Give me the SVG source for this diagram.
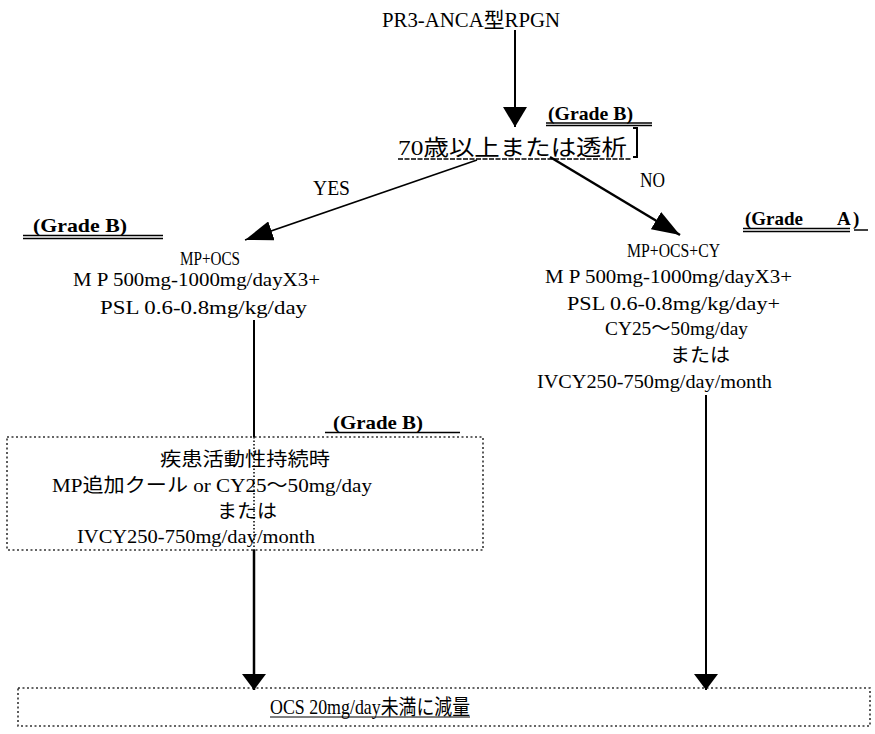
<svg xmlns="http://www.w3.org/2000/svg" width="875" height="734" viewBox="0 0 875 734">
<style>
text{font-family:"Liberation Serif","Noto Sans CJK JP",serif;fill:#000;}
.t{font-size:19px;}
.s{font-size:19px;}
.g{font-size:19px;font-weight:bold;}
.ul{stroke:#000;stroke-width:1.5;fill:none;}
.ln{stroke:#000;fill:none;}
.box{fill:none;stroke:#333;stroke-width:1.6;stroke-dasharray:2 2.5;}
</style>
<defs>
<marker id="ah" viewBox="0 0 20 24" markerWidth="20" markerHeight="24" refX="20" refY="12" orient="auto" markerUnits="userSpaceOnUse">
<path d="M0,0 L20,12 L0,24 Z" fill="#000"/>
</marker>
<marker id="ah2" viewBox="0 0 28 20" markerWidth="28" markerHeight="20" refX="28" refY="10" orient="auto" markerUnits="userSpaceOnUse">
<path d="M0,0 L28,10 L0,20 Z" fill="#000"/>
</marker>
<marker id="ah3" viewBox="0 0 16 24" markerWidth="16" markerHeight="24" refX="16" refY="12" orient="auto" markerUnits="userSpaceOnUse">
<path d="M0,0 L16,12 L0,24 Z" fill="#000"/>
</marker>
</defs>

<g id="title">
<text x="382" y="27" font-size="21" textLength="178" lengthAdjust="spacingAndGlyphs">PR3-ANCA型RPGN</text>
</g>

<g id="decision">
<text x="548" y="120" class="g" textLength="85" lengthAdjust="spacingAndGlyphs">(Grade B)</text>
<line class="ul" x1="546" y1="123" x2="652" y2="123"/>
<line class="ul" x1="546" y1="125.5" x2="652" y2="125.5" stroke-width="1"/>
<text x="398" y="155" font-size="22" textLength="229" lengthAdjust="spacingAndGlyphs">70歳以上または透析</text>
<line x1="398" y1="159" x2="632" y2="159" stroke="#000" stroke-width="1.5" stroke-dasharray="5 1.5"/>
<path class="ln" stroke-width="2" d="M633,128 H637 V157 H633"/>
</g>

<g id="left-node">
<text x="33" y="232" class="g" textLength="94" lengthAdjust="spacingAndGlyphs">(Grade B)</text>
<line class="ul" x1="23" y1="235.5" x2="163" y2="235.5" stroke-width="2"/>
<line class="ul" x1="23" y1="238.5" x2="163" y2="238.5" stroke-width="1"/>
<text x="180" y="265" class="s" textLength="60" lengthAdjust="spacingAndGlyphs">MP+OCS</text>
<text x="73" y="286" class="t" textLength="247" lengthAdjust="spacingAndGlyphs">M P  500mg-1000mg/dayX3+</text>
<text x="100" y="314" class="t" textLength="207" lengthAdjust="spacingAndGlyphs">PSL 0.6-0.8mg/kg/day</text>
</g>

<g id="right-node">
<text x="745" y="225" class="g" textLength="58" lengthAdjust="spacingAndGlyphs">(Grade</text>
<text x="837" y="225" class="g">A</text>
<text x="853" y="225" class="g">)</text>
<line class="ul" x1="743" y1="228.5" x2="850" y2="228.5" stroke-width="2"/>
<line class="ul" x1="743" y1="231.5" x2="850" y2="231.5" stroke-width="1"/>
<line class="ul" x1="854" y1="230" x2="868" y2="230"/>
<text x="627" y="257" class="s" textLength="93" lengthAdjust="spacingAndGlyphs">MP+OCS+CY</text>
<text x="545" y="283" class="t" textLength="247" lengthAdjust="spacingAndGlyphs">M P  500mg-1000mg/dayX3+</text>
<text x="567" y="310" class="t" textLength="213" lengthAdjust="spacingAndGlyphs">PSL 0.6-0.8mg/kg/day+</text>
<text x="605" y="335" class="t" textLength="143" lengthAdjust="spacingAndGlyphs">CY25～50mg/day</text>
<text x="670" y="362" class="t" textLength="60" lengthAdjust="spacingAndGlyphs">または</text>
<text x="537" y="388" class="t" textLength="235" lengthAdjust="spacingAndGlyphs">IVCY250-750mg/day/month</text>
</g>

<g id="persistent-node">
<text x="333" y="429" class="g" textLength="90" lengthAdjust="spacingAndGlyphs">(Grade B)</text>
<line class="ul" x1="325" y1="432.5" x2="460" y2="432.5" stroke-width="2"/>
<rect class="box" x="7" y="437" width="476" height="113"/>
<text x="160" y="466" class="t" textLength="170" lengthAdjust="spacingAndGlyphs">疾患活動性持続時</text>
<text x="52" y="492" class="t" textLength="320" lengthAdjust="spacingAndGlyphs">MP追加クール or  CY25～50mg/day</text>
<text x="217" y="518" class="t" textLength="60" lengthAdjust="spacingAndGlyphs">または</text>
<text x="77" y="543" class="t" textLength="238" lengthAdjust="spacingAndGlyphs">IVCY250-750mg/day/month</text>
</g>

<g id="result-node">
<rect class="box" x="18" y="688" width="852" height="38"/>
<text x="270" y="714" font-size="21" textLength="200" lengthAdjust="spacingAndGlyphs">OCS 20mg/day未満に減量</text>
<line x1="270" y1="717" x2="470" y2="717" stroke="#000" stroke-width="1.2"/>
</g>

<g id="connectors">
<line class="ln" stroke-width="2" x1="515" y1="30" x2="515" y2="127" marker-end="url(#ah)"/>
<line class="ln" stroke-width="1.5" x1="477" y1="160" x2="245" y2="240" marker-end="url(#ah2)"/>
<text x="313" y="195" font-size="22" textLength="37" lengthAdjust="spacingAndGlyphs">YES</text>
<line class="ln" stroke-width="2.5" x1="550" y1="157" x2="680" y2="235" marker-end="url(#ah2)"/>
<text x="640" y="187" font-size="22" textLength="25" lengthAdjust="spacingAndGlyphs">NO</text>
<line class="ln" stroke-width="2" x1="254" y1="320" x2="254" y2="437"/>
<line class="ln" stroke-width="1.5" stroke-dasharray="1.5 2" x1="254" y1="437" x2="254" y2="550"/>
<line class="ln" stroke-width="2.5" x1="254" y1="550" x2="254" y2="690" marker-end="url(#ah3)"/>
<line class="ln" stroke-width="2" x1="706" y1="395" x2="706" y2="690" marker-end="url(#ah3)"/>
</g>
</svg>
